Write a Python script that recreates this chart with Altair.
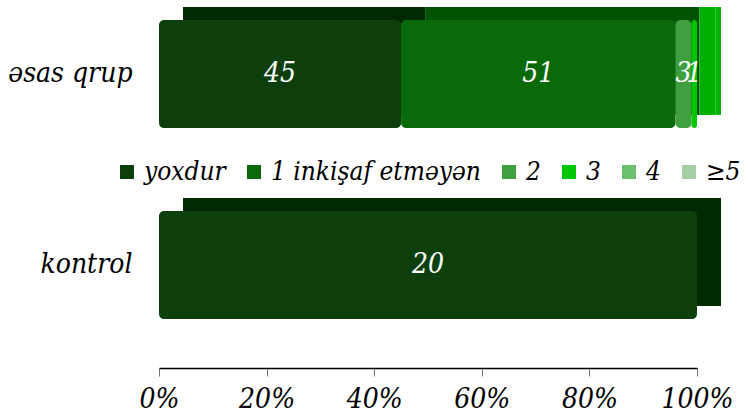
import altair as alt
import pandas as pd

groups = ["əsas qrup", "kontrol"]
categories = ["yoxdur", "1 inkişaf etməyən", "2", "3", "4", "≥5"]
asas_values = [45, 51, 3, 1, 0, 0]
kontrol_values = [20, 0, 0, 0, 0, 0]

front_colors = ["#0c3f0c", "#0a6a0a", "#3f9f3f", "#00c800", "#6cc06c", "#a5cfa5"]
back_colors = ["#022a02", "#045204", "#00b000", "#00b400", "#5aa05a", "#90b890"]

FONT = "DejaVu Serif Condensed"

rows = []
for g, vals in zip(groups, [asas_values, kontrol_values]):
    for i, (c, v) in enumerate(zip(categories, vals)):
        rows.append({"group": g, "category": c, "idx": i, "value": v})
df = pd.DataFrame(rows)

base = alt.Chart(df).transform_stack(
    stack="value", groupby=["group"], sort=[alt.SortField("idx")],
    as_=["v0", "v1"], offset="normalize"
).transform_calculate(mid="(datum.v0 + datum.v1) / 2").transform_filter("datum.value > 0")

yenc = alt.Y("group:N", sort=groups, title=None,
             scale=alt.Scale(domain=groups, paddingInner=0.435, paddingOuter=0.181, align=0.29),
             axis=alt.Axis(domain=False, ticks=False, labelFont=FONT, labelFontStyle="italic",
                           labelFontSize=28, labelColor="black", labelPadding=27))

xenc = alt.X("v0:Q", title=None, scale=alt.Scale(domain=[0, 1]),
             axis=alt.Axis(format="%", values=[0, 0.2, 0.4, 0.6, 0.8, 1], grid=False,
                           labelFlush=False, labelOverlap=False,
                           labelFont=FONT, labelFontStyle="italic", labelFontSize=28,
                           labelColor="black", labelPadding=9, domainColor="black",
                           domainWidth=1.5, tickColor="#777777", tickSize=8))

back = base.mark_bar(xOffset=24, x2Offset=24, yOffset=-13, y2Offset=-13, cornerRadius=0).encode(
    x=xenc, x2="v1:Q", y=yenc,
    color=alt.Color("category:N", scale=alt.Scale(domain=categories, range=back_colors), legend=None),
)

front = base.mark_bar(cornerRadius=5).encode(
    x=xenc, x2="v1:Q", y=yenc,
    color=alt.Color("category:N", scale=alt.Scale(domain=categories, range=front_colors),
                    legend=alt.Legend(title=None, orient="none", direction="horizontal",
                                      legendX=-45, legendY=159, symbolType="square",
                                      symbolSize=196, symbolStrokeWidth=0, labelFont=FONT,
                                      labelFontStyle="italic", labelFontSize=26,
                                      labelColor="black", labelOffset=4, columnPadding=15,
                                      labelLimit=400)),
)

text = base.mark_text(font=FONT, fontStyle="italic", fontSize=28, color="white").encode(
    x=alt.X("mid:Q"), y=alt.Y("group:N", sort=groups), text="value:Q"
)

chart = alt.layer(back, front, text).resolve_scale(color="independent").properties(
    width=538, height=368,
    padding={"left": 159, "top": 0, "right": 52, "bottom": 47},
    autosize=alt.AutoSizeParams(type="none"),
    background="white",
).configure_view(stroke=None)

chart.save("out.html", embed_options={"renderer": "svg", "actions": False})
